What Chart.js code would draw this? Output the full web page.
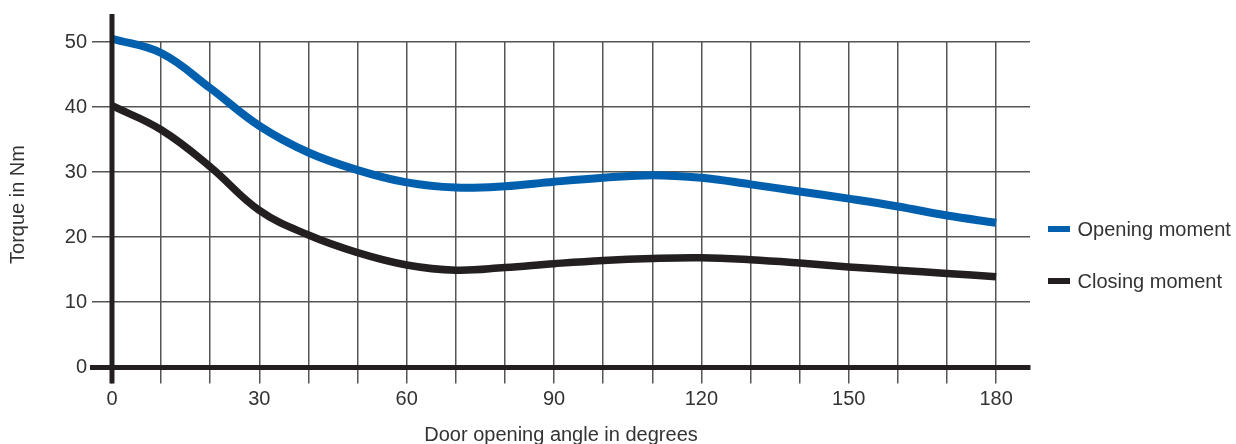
<!DOCTYPE html>
<html><head><meta charset="utf-8">
<script src="https://cdn.jsdelivr.net/npm/chart.js@4.4.1/dist/chart.umd.min.js"></script>
<style>html,body{margin:0;padding:0;background:#fff;}#wrap{width:1236px;height:444px;position:relative;}</style>
</head><body><div id="wrap"><canvas id="c" width="1236" height="444"></canvas></div>
<script>
const angles = [0,10,20,30,40,50,60,70,80,90,100,110,120,130,140,150,160,170,180];
const openingMoment = [50.5,48.3,42.9,37.1,33.0,30.3,28.4,27.6,27.8,28.5,29.1,29.5,29.1,28.1,27.0,25.9,24.7,23.3,22.2];
const closingMoment = [40.2,36.5,30.8,24.1,20.3,17.6,15.7,14.9,15.3,15.9,16.4,16.7,16.8,16.5,16.0,15.4,14.9,14.4,13.9];
const seriesLabels = ['Opening moment','Closing moment'];
const xGridValues = [0,10,20,30,40,50,60,70,80,90,100,110,120,130,140,150,160,170,180];
const xLabelValues = [0,30,60,90,120,150,180];
const yTickValues = [0,10,20,30,40,50];
const xTitle = 'Door opening angle in degrees';
const yTitle = 'Torque in Nm';

const FONT = "'Liberation Sans', Arial, Helvetica, sans-serif";
const FS = 20;
const TEXT = '#333333';
const GRID = '#555555';
const AXIS = '#231f20';
const BLUE = '#0060ae';

const axisLinePlugin = {
  id: 'axisLine',
  afterDatasetsDraw(chart) {
    const {ctx, chartArea, scales} = chart;
    const x0 = scales.x.getPixelForValue(0);
    ctx.save();
    ctx.strokeStyle = AXIS;
    ctx.lineWidth = 5;
    ctx.beginPath();
    ctx.moveTo(x0, chartArea.top - 28);
    ctx.lineTo(x0, chartArea.bottom + 16.5);
    ctx.stroke();
    ctx.restore();
  }
};

const legendPlugin = {
  id: 'sideLegend',
  afterDraw(chart) {
    const {ctx, chartArea} = chart;
    ctx.save();
    ctx.font = FS + 'px ' + FONT;
    ctx.textBaseline = 'middle';
    ctx.textAlign = 'left';
    chart.data.datasets.forEach((ds, i) => {
      const yc = 229 + i * 52;
      const x = chartArea.right + 18;
      ctx.fillStyle = ds.borderColor;
      ctx.fillRect(x, yc - 3, 22, 6);
      ctx.fillStyle = TEXT;
      ctx.fillText(ds.label, x + 29.5, yc + 1);
    });
    ctx.restore();
  }
};

const makeData = (vals) => angles.map((a, i) => ({x: a, y: vals[i]}));

new Chart(document.getElementById('c'), {
  type: 'line',
  data: {
    datasets: [
      {label: seriesLabels[0], data: makeData(openingMoment), borderColor: BLUE, backgroundColor: BLUE,
       borderWidth: 8, pointRadius: 0, tension: 0.4, clip: false, borderCapStyle: 'butt', fill: false},
      {label: seriesLabels[1], data: makeData(closingMoment), borderColor: AXIS, backgroundColor: AXIS,
       borderWidth: 7.5, pointRadius: 0, tension: 0.4, clip: false, borderCapStyle: 'butt', fill: false}
    ]
  },
  options: {
    responsive: false,
    animation: false,
    devicePixelRatio: 1,
    layout: {padding: {top: 42, right: 206, bottom: 0, left: 0}},
    plugins: {legend: {display: false}, tooltip: {enabled: false}},
    scales: {
      x: {
        type: 'linear',
        min: -4.07,
        max: 186.9,
        afterBuildTicks: (s) => { s.ticks = xGridValues.map(v => ({value: v})); },
        afterFit: (s) => { s.height = 77; },
        ticks: {
          autoSkip: false, maxRotation: 0, minRotation: 0,
          callback: (v) => xLabelValues.includes(v) ? String(v) : '',
          font: {family: FONT, size: FS}, color: TEXT, padding: 3.5
        },
        grid: {color: GRID, lineWidth: 1.5, tickLength: 16.5, drawTicks: true},
        border: {display: true, color: AXIS, width: 5},
        title: {display: true, text: xTitle, font: {family: FONT, size: FS}, color: TEXT, padding: {top: 0, bottom: -3.5}}
      },
      y: {
        type: 'linear',
        min: 0,
        max: 50,
        afterBuildTicks: (s) => { s.ticks = yTickValues.map(v => ({value: v})); },
        afterFit: (s) => { s.width = 92; },
        ticks: {font: {family: FONT, size: FS}, color: TEXT, padding: 5},
        grid: {color: GRID, lineWidth: 1.5, drawTicks: false},
        border: {display: false},
        title: {display: true, text: yTitle, font: {family: FONT, size: FS}, color: TEXT, padding: {top: 6, bottom: 0}}
      }
    }
  },
  plugins: [axisLinePlugin, legendPlugin]
});
</script></body></html>
